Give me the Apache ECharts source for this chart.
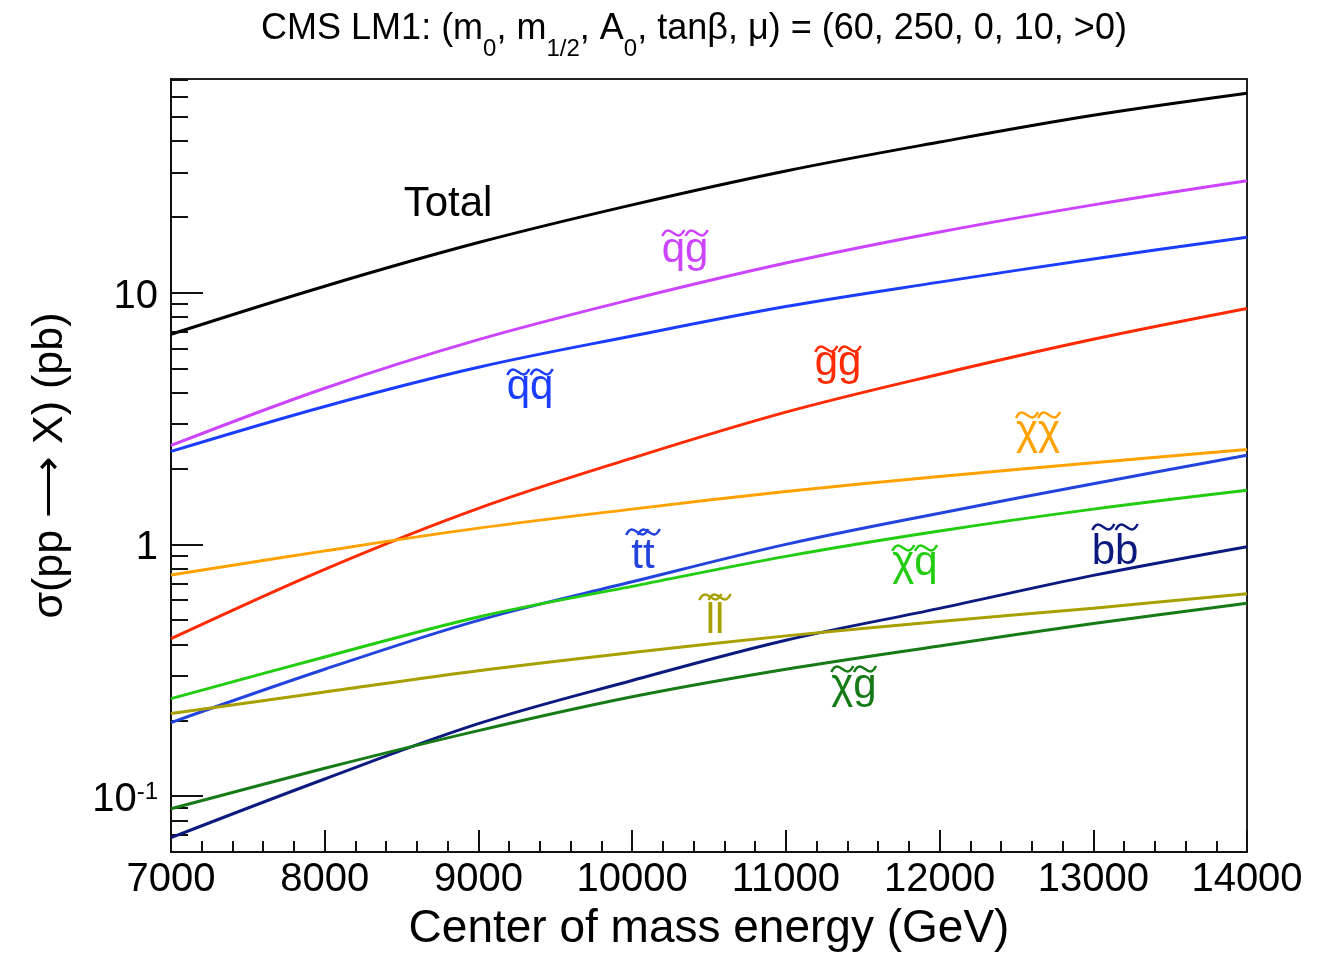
<!DOCTYPE html>
<html>
<head>
<meta charset="utf-8">
<title>CMS LM1 cross sections</title>
<script src="https://cdn.jsdelivr.net/npm/echarts@6/dist/echarts.min.js"></script>
<style>
  html, body { margin: 0; padding: 0; background: #fff; }
  #chart { width: 1329px; height: 957px; }
</style>
</head>
<body>
<div id="chart"></div>
<script>
// Centre-of-mass energies (GeV)
const energies = [7000, 8000, 9000, 10000, 11000, 12000, 13000, 14000];

// Production cross sections sigma(pp -> X) in pb
const total    = [6.83, 10.6, 15.8, 22.3, 30.4, 39.6, 50.6, 61.9];
const sqGluino = [2.47, 4.17, 6.50, 9.40, 13.1, 17.4, 22.3, 27.8];     // squark-gluino
const sqSq     = [2.34, 3.53, 5.05, 6.72, 8.80, 11.0, 13.6, 16.6];     // squark-squark
const glGl     = [0.422, 0.796, 1.39, 2.20, 3.35, 4.74, 6.52, 8.64];   // gluino-gluino
const chiChi   = [0.755, 0.942, 1.16, 1.38, 1.62, 1.86, 2.11, 2.38];   // gaugino pairs
const stSt     = [0.196, 0.319, 0.499, 0.710, 1.00, 1.33, 1.74, 2.26]; // stop pairs
const chiSq    = [0.244, 0.357, 0.515, 0.681, 0.896, 1.13, 1.38, 1.64]; // gaugino-squark
const sbSb     = [0.0684, 0.117, 0.194, 0.288, 0.416, 0.557, 0.753, 0.979]; // sbottom pairs
const slSl     = [0.213, 0.259, 0.315, 0.372, 0.433, 0.494, 0.558, 0.637]; // slepton pairs
const chiGl    = [0.0891, 0.129, 0.182, 0.248, 0.319, 0.395, 0.485, 0.583]; // gaugino-gluino

// Axis ranges and tick values
const xRange = [7000, 14000];
const yRange = [0.06, 70.5];
const yMajorTicks = [0.1, 1, 10];
const yMinorTicks = [0.07, 0.08, 0.09,
  0.2, 0.3, 0.4, 0.5, 0.6, 0.7, 0.8, 0.9,
  2, 3, 4, 5, 6, 7, 8, 9,
  20, 30, 40, 50, 60, 70];

const FONT = '"Liberation Sans", Arial, Helvetica, sans-serif';

const curves = [
  { name: 'Total', data: total,    color: '#000000' },
  { name: 'q̃g̃',   data: sqGluino, color: '#cc44ff' },
  { name: 'q̃q̃',   data: sqSq,     color: '#1a3dff' },
  { name: 'g̃g̃',   data: glGl,     color: '#ff2a00' },
  { name: 'χ̃χ̃',   data: chiChi,   color: '#ffa200' },
  { name: 't̃t̃',   data: stSt,     color: '#2244dd' },
  { name: 'χ̃q̃',   data: chiSq,    color: '#22cc11' },
  { name: 'b̃b̃',   data: sbSb,     color: '#0c1a80' },
  { name: 'l̃l̃',   data: slSl,     color: '#a8a000' },
  { name: 'χ̃g̃',   data: chiGl,    color: '#167a16' }
];

// Curve tags: letters (each carries a tilde), centre x, baseline y, tilde y
const tags = [
  { curve: 1, chars: ['q', 'g'], x: 685,  base: 265, tildeY: 233 },
  { curve: 2, chars: ['q', 'q'], x: 530,  base: 402, tildeY: 372 },
  { curve: 3, chars: ['g', 'g'], x: 838,  base: 378, tildeY: 349 },
  { curve: 4, chars: ['χ', 'χ'], x: 1038, base: 447, tildeY: 415 },
  { curve: 5, chars: ['t', 't'], x: 643,  base: 571, tildeY: 532 },
  { curve: 6, chars: ['χ', 'q'], x: 915,  base: 578, tildeY: 548 },
  { curve: 7, chars: ['b', 'b'], x: 1115, base: 567, tildeY: 527 },
  { curve: 8, chars: ['l', 'l'], x: 715,  base: 636, tildeY: 597 },
  { curve: 9, chars: ['χ', 'g'], x: 854,  base: 701, tildeY: 669 }
];
const TAG_SIZE = 42;

const chart = echarts.init(document.getElementById('chart'), null, { renderer: 'canvas' });

const series = curves.map(c => ({
  name: c.name,
  type: 'line',
  xAxisIndex: 0,
  yAxisIndex: 0,
  smooth: 0.35,
  showSymbol: false,
  symbol: 'none',
  silent: true,
  lineStyle: { color: c.color, width: 3 },
  itemStyle: { color: c.color },
  data: energies.map((e, i) => [e, c.data[i]])
}));

// Build tag letters with a wavy tilde above each one
const measureCtx = document.createElement('canvas').getContext('2d');
measureCtx.font = TAG_SIZE + 'px ' + FONT;

const graphics = [];
graphics.push({
  type: 'text', silent: true,
  style: {
    text: 'Total', x: 448, y: 219 - 0.35 * TAG_SIZE,
    fill: curves[0].color, font: TAG_SIZE + 'px ' + FONT,
    textAlign: 'center', textVerticalAlign: 'middle'
  }
});

tags.forEach(t => {
  const color = curves[t.curve].color;
  const widths = t.chars.map(ch => measureCtx.measureText(ch).width);
  const full = widths.reduce((a, b) => a + b, 0);
  let cursor = t.x - full / 2;
  t.chars.forEach((ch, k) => {
    const cx = cursor + widths[k] / 2;
    cursor += widths[k];
    graphics.push({
      type: 'text', silent: true,
      style: {
        text: ch, x: cx, y: t.base - 0.35 * TAG_SIZE,
        fill: color, font: TAG_SIZE + 'px ' + FONT,
        textAlign: 'center', textVerticalAlign: 'middle'
      }
    });
    graphics.push({
      type: 'bezierCurve', silent: true,
      shape: {
        x1: cx - 11, y1: t.tildeY + 3,
        cpx1: cx - 3, cpy1: t.tildeY - 13,
        cpx2: cx + 3, cpy2: t.tildeY + 13,
        x2: cx + 11, y2: t.tildeY - 3
      },
      style: { stroke: color, lineWidth: 2.6, fill: null }
    });
  });
});

// Title with subscripted parameters
graphics.push({
  type: 'text',
  silent: true,
  style: {
    x: 694,
    y: 11,
    textAlign: 'center',
    textVerticalAlign: 'top',
    text: '{a|CMS LM1: (m}{s|0}{a|, m}{s|1/2}{a|, A}{s|0}{a|, tanβ, μ) = (60, 250, 0, 10, >0)}',
    rich: {
      a: { fontSize: 36, fontFamily: FONT, fill: '#000', lineHeight: 44, verticalAlign: 'top' },
      s: { fontSize: 24, fontFamily: FONT, fill: '#000', lineHeight: 50, verticalAlign: 'bottom' }
    }
  }
});

const yLabelFmt = v => {
  if (Math.abs(v - 0.1) < 1e-9) return '{b|10}{p|-1}';
  return '{b|' + Math.round(v) + '}';
};

const option = {
  animation: false,
  backgroundColor: '#ffffff',
  grid: {
    left: 171, top: 79, width: 1076, height: 773,
    show: true, borderColor: '#222', borderWidth: 2, backgroundColor: 'transparent'
  },
  xAxis: {
    type: 'value',
    min: xRange[0], max: xRange[1], interval: 1000,
    axisLine: { show: true, lineStyle: { color: '#111', width: 2 } },
    axisTick: { show: true, inside: true, length: 22, lineStyle: { color: '#111', width: 2 } },
    minorTick: { show: true, splitNumber: 5, length: 11, lineStyle: { color: '#111', width: 2 } },
    splitLine: { show: false },
    minorSplitLine: { show: false },
    axisLabel: { fontSize: 40, fontFamily: FONT, color: '#000', margin: 8, formatter: v => String(v) },
    name: 'Center of mass energy (GeV)',
    nameLocation: 'middle',
    nameGap: 54,
    nameTextStyle: { fontSize: 46, fontFamily: FONT, color: '#000' }
  },
  yAxis: [
    {
      type: 'log', logBase: 10,
      min: yRange[0], max: yRange[1],
      axisLine: { show: true, lineStyle: { color: '#111', width: 2 } },
      axisTick: { show: true, inside: true, length: 17, customValues: yMinorTicks,
        lineStyle: { color: '#111', width: 2 } },
      splitLine: { show: false },
      axisLabel: {
        customValues: yMajorTicks,
        margin: 13,
        formatter: yLabelFmt,
        padding: [8, 0, 0, 0],
        rich: {
          b: { fontSize: 40, fontFamily: FONT, color: '#000', lineHeight: 40 },
          p: { fontSize: 24, fontFamily: FONT, color: '#000', lineHeight: 30, verticalAlign: 'top' }
        }
      },
      name: 'σ(pp ⟶ X) (pb)',
      nameLocation: 'middle',
      nameGap: 99,
      nameTextStyle: { fontSize: 43, fontFamily: FONT, color: '#000' }
    },
    {
      type: 'log', logBase: 10,
      min: yRange[0], max: yRange[1],
      position: 'left',
      axisLine: { show: false },
      axisTick: { show: true, inside: true, length: 32, customValues: yMajorTicks,
        lineStyle: { color: '#111', width: 2 } },
      axisLabel: { show: false },
      splitLine: { show: false }
    }
  ],
  series: series,
  graphic: graphics
};

chart.setOption(option);
</script>
</body>
</html>
